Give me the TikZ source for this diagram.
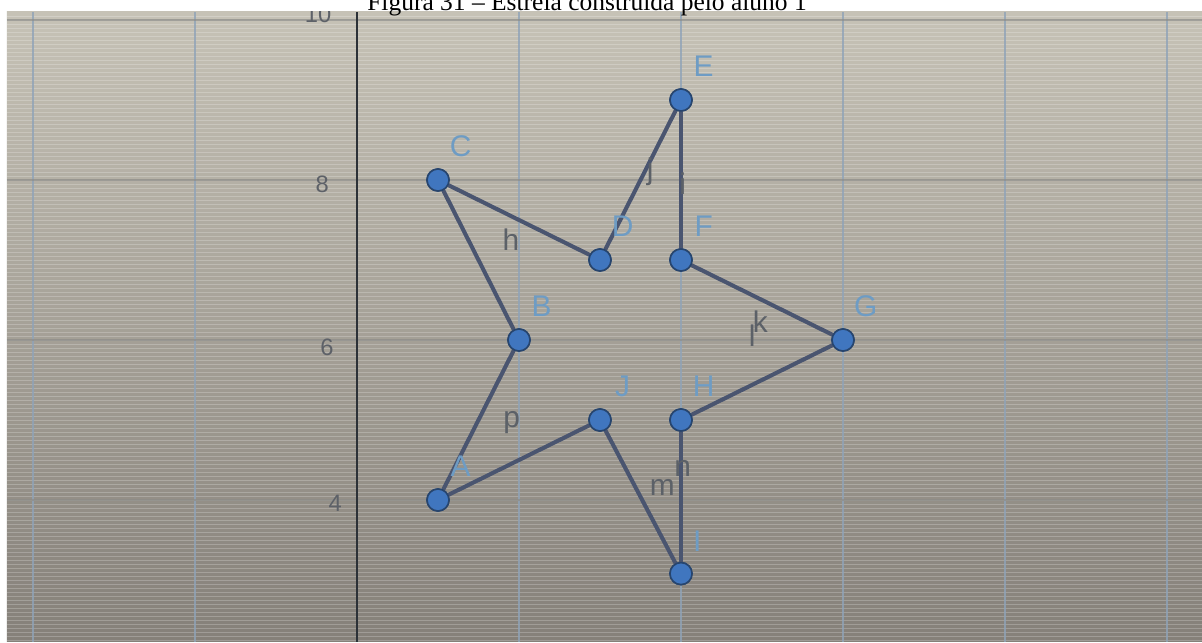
\documentclass[tikz,border=0pt]{standalone}
\usepackage{fontspec}
\setmainfont{Liberation Serif}
\setsansfont{Liberation Sans}
\usetikzlibrary{calc}
\definecolor{cscrtop}{HTML}{C6C2B6}
\definecolor{cscrmid}{HTML}{D4CEBD}
\definecolor{cscrbot}{HTML}{858079}
\definecolor{cgrid}{HTML}{8FA3B8}
\definecolor{chgrid}{HTML}{8C8C88}
\definecolor{caxis}{HTML}{2C3137}
\definecolor{cseg}{HTML}{4A5570}
\definecolor{cpt}{HTML}{4076BF}
\definecolor{cptline}{HTML}{27456E}
\definecolor{cptlab}{HTML}{6E9CC4}
\definecolor{cseglab}{HTML}{5C6168}
\definecolor{ctick}{HTML}{5D6168}
\tikzset{
  grid/.style={draw=cgrid, line width=0.8pt, opacity=0.8},
  hgrid/.style={draw=chgrid, line width=0.7pt, opacity=0.7},
  stripe/.style={draw=white, line width=0.4pt, opacity=0.22},
  axis/.style={draw=caxis, line width=1.2pt},
  pt/.style={circle, draw=cptline, fill=cpt, line width=0.9pt, minimum size=0.44cm, inner sep=0pt},
  seg/.style={draw=cseg, line width=2.3pt, line cap=round},
  ptlab/.style={font=\sffamily\fontsize{17}{17}\selectfont, text=cptlab},
  seglab/.style={font=\sffamily\fontsize{17}{17}\selectfont, text=cseglab},
  tick/.style={font=\sffamily\fontsize{13.5}{13.5}\selectfont, text=ctick},
  caption/.style={font=\fontsize{14.5}{14.5}\selectfont, anchor=base},
}
\begin{document}
\begin{tikzpicture}[x=1.62cm, y=1.6cm]
  \useasboundingbox (-4.4074,2.225) rectangle (10.4321,10.25);
  \clip (-4.4074,2.225) rectangle (10.4321,10.25);
  \fill[white] (-4.4074,2.225) rectangle (10.4321,10.25);
  % screen
  \begin{scope}
    \clip (-4.321,2.225) rectangle (10.4321,10.1);
    \shade[top color=cscrtop, middle color=cscrmid, bottom color=cscrbot] (-4.321,2.225) rectangle (10.4321,10.1);
    \foreach \y in {2.25,2.3,...,10.1} \draw[stripe] (-4.321,\y) -- (10.4321,\y);
    \foreach \x in {-4,-2,2,4,6,8,10} \draw[grid] (\x,2.225) -- (\x,10.1);
    \foreach \y in {4,6,8,10} \draw[hgrid] (-4.321,\y) -- (10.4321,\y);
    \draw[axis] (0,2.225) -- (0,10.1);
    \node[tick] (t10) at (-0.48,10.075) {10};
    \node[tick] (t8) at (-0.43,7.94) {8};
    \node[tick] (t6) at (-0.37,5.91) {6};
    \node[tick] (t4) at (-0.27,3.96) {4};
  \end{scope}
  % star
  \node[pt] (A) at (1,4) {};
  \node[pt] (B) at (2,6) {};
  \node[pt] (C) at (1,8) {};
  \node[pt] (D) at (3,7) {};
  \node[pt] (E) at (4,9) {};
  \node[pt] (F) at (4,7) {};
  \node[pt] (G) at (6,6) {};
  \node[pt] (H) at (4,5) {};
  \node[pt] (I) at (4,3.08) {};
  \node[pt] (J) at (3,5) {};
  \foreach \a/\b in {A/B,B/C,C/D,D/E,E/F,F/G,G/H,H/I,I/J,J/A}
    \draw[seg] (\a) -- (\b);
  \foreach \n in {A,B,C,D,E,F,G,H,I,J}
    \node[pt] at (\n) {};
  \foreach \n in {A,B,C,D,E,F,G,H,J}
    \node[ptlab] (lab\n) at ($(\n)+(0.28,0.42)$) {\n};
  \node[ptlab] (labI) at ($(I)+(0.2,0.4)$) {I};
  % segment names
  \node[seglab] (sp) at (1.91,4.97) {p};
  \node[seglab] (sh) at (1.90,7.25) {h};
  \node[seglab] (sj) at (3.62,8.10) {j};
  \node[seglab] (si) at (4.02,7.96) {i};
  \node[seglab] (sk) at (4.98,6.23) {k};
  \node[seglab] (sl) at (4.88,6.06) {l};
  \node[seglab] (sm) at (3.77,4.16) {m};
  \node[seglab] (sn) at (4.02,4.40) {n};
  \node[caption] (cap) at (2.84,10.1125) {Figura 31 -- Estrela construída pelo aluno 1};
\end{tikzpicture}
\end{document}
